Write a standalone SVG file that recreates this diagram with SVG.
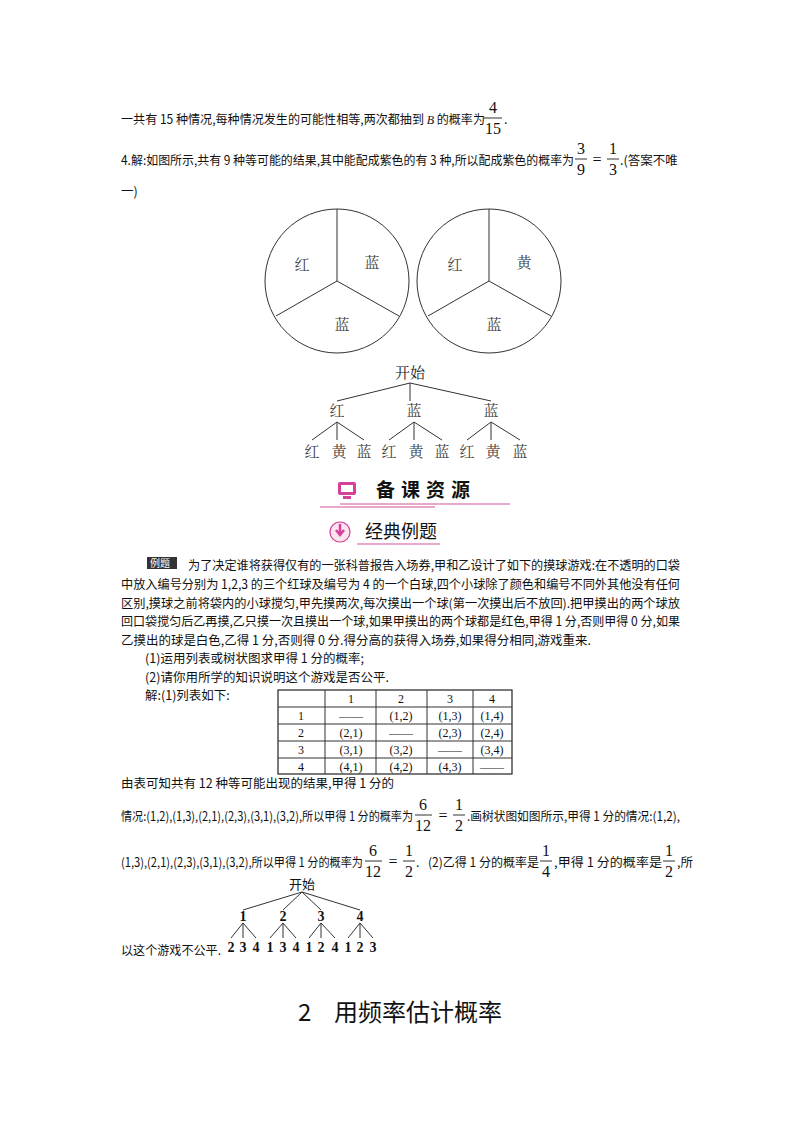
<svg xmlns="http://www.w3.org/2000/svg" width="800" height="1132" viewBox="0 0 800 1132">
<style>
text{font-family:"Noto Sans CJK SC","Liberation Serif",serif;fill:#111}
.t{font-size:12.5px}
.f{font-family:"Liberation Serif",serif;font-size:16px;text-anchor:middle}
.c{font-family:"Noto Serif CJK SC","Noto Sans CJK SC",serif;font-size:15px;text-anchor:middle;fill:#444}
.n{font-family:"Liberation Serif",serif;font-size:14px;font-weight:bold;text-anchor:middle}
.ln{stroke:#333;stroke-width:1;fill:none}
.pk{stroke:#d4509a;stroke-width:1.2}
.tb{font-family:"Liberation Serif",serif;font-size:12px;text-anchor:middle}
</style>
<rect width="800" height="1132" fill="#fff"/>
<g id="text-top">
<text class="t" x="121" y="124" textLength="364" lengthAdjust="spacingAndGlyphs">一共有 15 种情况,每种情况发生的可能性相等,两次都抽到 <tspan font-style="italic" font-family="Liberation Serif">B</tspan> 的概率为</text>
<text class="f" x="493" y="113">4</text><line x1="484" y1="118" x2="502" y2="118" class="ln"/><text class="f" x="493" y="134">15</text><text class="t" x="504" y="124">.</text>
<text class="t" x="121" y="165" textLength="453" lengthAdjust="spacingAndGlyphs">4.解:如图所示,共有 9 种等可能的结果,其中能配成紫色的有 3 种,所以配成紫色的概率为</text>
<text class="f" x="581" y="154">3</text><line x1="575" y1="159" x2="587" y2="159" class="ln"/><text class="f" x="581" y="175">9</text>
<text class="f" x="597" y="165">=</text>
<text class="f" x="613" y="154">1</text><line x1="607" y1="159" x2="619" y2="159" class="ln"/><text class="f" x="613" y="175">3</text>
<text class="t" x="620" y="165">.(答案不唯</text>
<text class="t" x="121" y="196">一)</text>
</g>
<g id="spinner-1">
<circle cx="337" cy="281" r="72" class="ln"/>
<path d="M337 281V209M337 281L276 316M337 281L399 316" class="ln"/>
<text class="c" x="302" y="270">红</text><text class="c" x="372" y="268">蓝</text><text class="c" x="342" y="330">蓝</text>
</g>
<g id="spinner-2">
<circle cx="489" cy="281" r="72" class="ln"/>
<path d="M489 281V209M489 281L428 316M489 281L551 316" class="ln"/>
<text class="c" x="455" y="270">红</text><text class="c" x="524" y="268">黄</text><text class="c" x="494" y="330">蓝</text>
</g>
<g id="connectors">
<path class="ln" d="M410 383L337 401M410 383V401M410 383L491 401"/>
<path class="ln" d="M337 422L312 440M337 422V440M337 422L364 440M414 422L389 440M414 422V440M414 422L442 440M491 422L467 440M491 422V440M491 422L520 440"/>
<path class="ln" d="M302 892L243 910M302 892L283 910M302 892L321 910M302 892L360 910"/>
<path class="ln" d="M243 923L231 938M243 923V938M243 923L256 938M283 923L270 938M283 923V938M283 923L296 938M321 923L309 938M321 923V938M321 923L335 938M360 923L348 938M360 923V938M360 923L373 938"/>
</g>
<g id="tree-1">
<text class="c" x="410" y="378" style="fill:#222">开始</text>
<text class="c" x="337" y="416">红</text><text class="c" x="414" y="416">蓝</text><text class="c" x="491" y="416">蓝</text>
<text class="c" x="312" y="457">红</text><text class="c" x="339" y="457">黄</text><text class="c" x="364" y="457">蓝</text>
<text class="c" x="389" y="457">红</text><text class="c" x="416" y="457">黄</text><text class="c" x="442" y="457">蓝</text>
<text class="c" x="467" y="457">红</text><text class="c" x="493" y="457">黄</text><text class="c" x="520" y="457">蓝</text>
</g>
<g id="header-1">
<rect x="338" y="482" width="18" height="13" rx="2" fill="#d4409a"/>
<rect x="341" y="485" width="12" height="7" fill="#fff"/>
<rect x="343" y="496" width="8" height="3" fill="#d4409a"/>
<text x="376" y="497" style="font-size:19px;font-weight:bold;letter-spacing:6px">备课资源</text>
<line x1="340" y1="504" x2="510" y2="504" class="pk"/>
<line x1="320" y1="507" x2="435" y2="507" class="pk"/>
</g>
<g id="header-2">
<circle cx="340" cy="532" r="10" fill="#fce4ef" stroke="#d4409a" stroke-width="1.2"/>
<path d="M340 524V533M336 530L340 535L344 530" stroke="#d4409a" stroke-width="2.5" fill="none"/>
<text x="365" y="538" style="font-size:18px">经典例题</text>
<line x1="357" y1="544" x2="440" y2="544" class="pk"/>
</g>
<g id="problem">
<rect x="147" y="557" width="30" height="12" fill="#333"/>
<text x="150" y="567" style="font-size:10px;fill:#fff">例题</text>
<text class="t" x="188" y="570" textLength="492" lengthAdjust="spacingAndGlyphs">为了决定谁将获得仅有的一张科普报告入场券,甲和乙设计了如下的摸球游戏:在不透明的口袋</text>
<text class="t" x="121" y="589" textLength="559" lengthAdjust="spacingAndGlyphs">中放入编号分别为 1,2,3 的三个红球及编号为 4 的一个白球,四个小球除了颜色和编号不同外其他没有任何</text>
<text class="t" x="121" y="608" textLength="559" lengthAdjust="spacingAndGlyphs">区别,摸球之前将袋内的小球搅匀,甲先摸两次,每次摸出一个球(第一次摸出后不放回).把甲摸出的两个球放</text>
<text class="t" x="121" y="626" textLength="559" lengthAdjust="spacingAndGlyphs">回口袋搅匀后乙再摸,乙只摸一次且摸出一个球,如果甲摸出的两个球都是红色,甲得 1 分,否则甲得 0 分,如果</text>
<text class="t" x="121" y="645" textLength="470" lengthAdjust="spacingAndGlyphs">乙摸出的球是白色,乙得 1 分,否则得 0 分.得分高的获得入场券,如果得分相同,游戏重来.</text>
<text class="t" x="145" y="663">(1)运用列表或树状图求甲得 1 分的概率;</text>
<text class="t" x="145" y="682">(2)请你用所学的知识说明这个游戏是否公平.</text>
<text class="t" x="145" y="700">解:(1)列表如下:</text>
</g>
<g id="table">
<rect x="278" y="690" width="234" height="84" fill="none" stroke="#222" stroke-width="1.2"/>
<path class="ln" d="M325 690V774M376 690V774M427 690V774M473 690V774M278 707H512M278 724H512M278 741H512M278 758H512"/>
<text class="tb" x="351" y="703">1</text><text class="tb" x="401" y="703">2</text><text class="tb" x="450" y="703">3</text><text class="tb" x="492" y="703">4</text>
<text class="tb" x="301" y="720">1</text><text class="tb" x="351" y="720">——</text><text class="tb" x="401" y="720">(1,2)</text><text class="tb" x="450" y="720">(1,3)</text><text class="tb" x="492" y="720">(1,4)</text>
<text class="tb" x="301" y="737">2</text><text class="tb" x="351" y="737">(2,1)</text><text class="tb" x="401" y="737">——</text><text class="tb" x="450" y="737">(2,3)</text><text class="tb" x="492" y="737">(2,4)</text>
<text class="tb" x="301" y="754">3</text><text class="tb" x="351" y="754">(3,1)</text><text class="tb" x="401" y="754">(3,2)</text><text class="tb" x="450" y="754">——</text><text class="tb" x="492" y="754">(3,4)</text>
<text class="tb" x="301" y="771">4</text><text class="tb" x="351" y="771">(4,1)</text><text class="tb" x="401" y="771">(4,2)</text><text class="tb" x="450" y="771">(4,3)</text><text class="tb" x="492" y="771">——</text>
</g>
<g id="solution">
<text class="t" x="121" y="788">由表可知共有 12 种等可能出现的结果,甲得 1 分的</text>
<text class="t" x="121" y="821" textLength="292" lengthAdjust="spacingAndGlyphs">情况:(1,2),(1,3),(2,1),(2,3),(3,1),(3,2),所以甲得 1 分的概率为</text>
<text class="f" x="423" y="810">6</text><line x1="415" y1="815" x2="432" y2="815" class="ln"/><text class="f" x="423" y="831">12</text>
<text class="f" x="443" y="821">=</text>
<text class="f" x="459" y="810">1</text><line x1="453" y1="815" x2="465" y2="815" class="ln"/><text class="f" x="459" y="831">2</text>
<text class="t" x="467" y="821" textLength="213" lengthAdjust="spacingAndGlyphs">.画树状图如图所示,甲得 1 分的情况:(1,2),</text>
<text class="t" x="121" y="867" textLength="242" lengthAdjust="spacingAndGlyphs">(1,3),(2,1),(2,3),(3,1),(3,2),所以甲得 1 分的概率为</text>
<text class="f" x="373" y="856">6</text><line x1="365" y1="861" x2="382" y2="861" class="ln"/><text class="f" x="373" y="877">12</text>
<text class="f" x="393" y="867">=</text>
<text class="f" x="409" y="856">1</text><line x1="403" y1="861" x2="415" y2="861" class="ln"/><text class="f" x="409" y="877">2</text>
<text class="t" x="416" y="867">.</text>
<text class="t" x="428" y="867" textLength="111" lengthAdjust="spacingAndGlyphs">(2)乙得 1 分的概率是</text>
<text class="f" x="546" y="856">1</text><line x1="540" y1="861" x2="552" y2="861" class="ln"/><text class="f" x="546" y="877">4</text>
<text class="t" x="554" y="867" textLength="108" lengthAdjust="spacingAndGlyphs">,甲得 1 分的概率是</text>
<text class="f" x="669" y="856">1</text><line x1="663" y1="861" x2="675" y2="861" class="ln"/><text class="f" x="669" y="877">2</text>
<text class="t" x="677" y="867">,所</text>
<text class="t" x="121" y="955" textLength="100" lengthAdjust="spacingAndGlyphs">以这个游戏不公平.</text>
</g>
<g id="tree-2">
<text x="302" y="889" style="font-size:13px;text-anchor:middle">开始</text>
<text class="n" x="243" y="921">1</text><text class="n" x="283" y="921">2</text><text class="n" x="321" y="921">3</text><text class="n" x="360" y="921">4</text>
<text class="n" x="231" y="952">2</text><text class="n" x="243" y="952">3</text><text class="n" x="256" y="952">4</text>
<text class="n" x="270" y="952">1</text><text class="n" x="283" y="952">3</text><text class="n" x="296" y="952">4</text>
<text class="n" x="309" y="952">1</text><text class="n" x="321" y="952">2</text><text class="n" x="335" y="952">4</text>
<text class="n" x="348" y="952">1</text><text class="n" x="360" y="952">2</text><text class="n" x="373" y="952">3</text>
</g>
<text x="298" y="1021" style="font-size:24px">2</text>
<text x="334" y="1021" style="font-size:24px">用频率估计概率</text>
</svg>
